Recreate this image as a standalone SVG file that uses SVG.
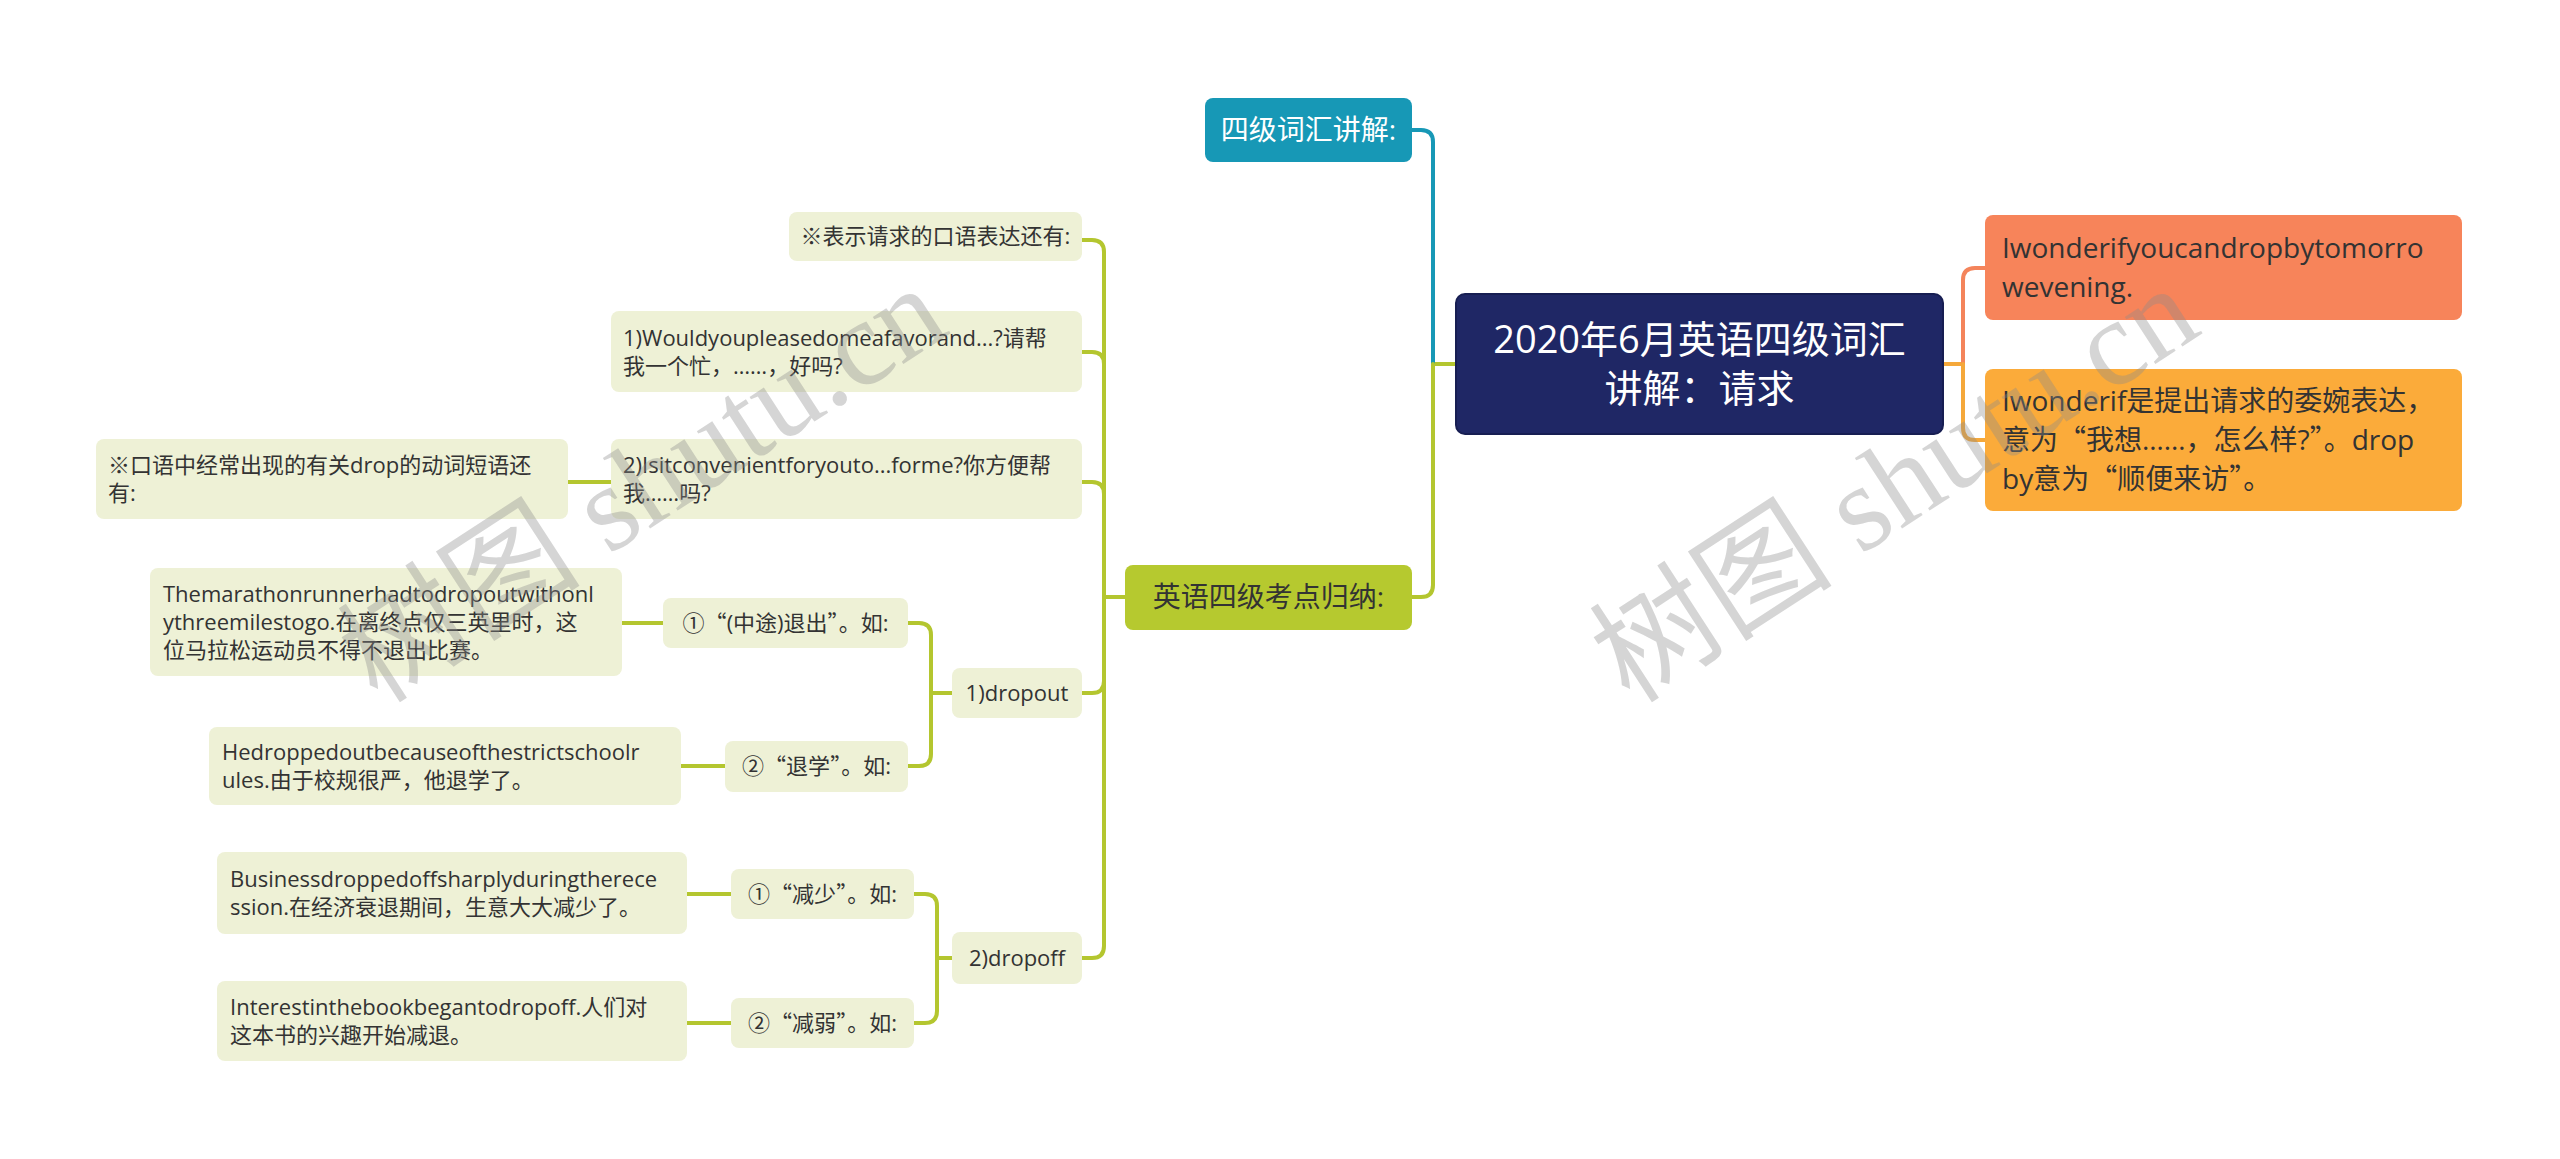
<svg xmlns="http://www.w3.org/2000/svg" width="2560" height="1159" viewBox="0 0 2560 1159">
<style>
  text { font-family: "Open Sans", "Noto Sans CJK SC", sans-serif; }
  .q { font-family: "Noto Sans CJK SC", sans-serif; }
  .sub { fill: #eef1d6; }
  .st { font-size: 22px; fill: #333333; }
  .c { text-anchor: middle; }
  .g { fill: none; stroke: #b4c62f; stroke-width: 4; stroke-linecap: round; }
  .teal { fill: none; stroke: #1798b6; stroke-width: 4; stroke-linecap: round; }
  .coral { fill: none; stroke: #f4845b; stroke-width: 4; stroke-linecap: round; }
  .orng { fill: none; stroke: #f5a83a; stroke-width: 4; stroke-linecap: round; }
  .wm { font-family: "Liberation Serif", "Noto Sans CJK SC", serif; font-size: 122px; fill: #8a8a8a; fill-opacity: 0.36; }
</style>
<rect width="2560" height="1159" fill="#ffffff"/>
<g id="connectors">
  <path class="g" d="M1456,364 H1433"/>
  <path class="teal" d="M1433,364 V142 Q1433,130 1421,130 H1412"/>
  <path class="g" d="M1433,364 V585 Q1433,597 1421,597 H1412"/>
  <path class="orng" d="M1943,364 H1963"/>
  <path class="coral" d="M1963,364 V280 Q1963,268 1975,268 H1985"/>
  <path class="orng" d="M1963,364 V428 Q1963,440 1975,440 H1985"/>
  <path class="g" d="M1125,597 H1104"/>
  <path class="g" d="M1104,597 V252 Q1104,240 1092,240 H1082"/>
  <path class="g" d="M1104,597 V364 Q1104,352 1092,352 H1082"/>
  <path class="g" d="M1104,597 V494 Q1104,482 1092,482 H1082"/>
  <path class="g" d="M1104,597 V681 Q1104,693 1092,693 H1082"/>
  <path class="g" d="M1104,597 V946 Q1104,958 1092,958 H1082"/>
  <path class="g" d="M611,482 H568"/>
  <path class="g" d="M952,693 H931"/>
  <path class="g" d="M931,693 V635 Q931,623 919,623 H908"/>
  <path class="g" d="M931,693 V754 Q931,766 919,766 H908"/>
  <path class="g" d="M663,623 H622"/>
  <path class="g" d="M725,766 H681"/>
  <path class="g" d="M952,958 H937"/>
  <path class="g" d="M937,958 V906 Q937,894 925,894 H914"/>
  <path class="g" d="M937,958 V1011 Q937,1023 925,1023 H914"/>
  <path class="g" d="M731,894 H687"/>
  <path class="g" d="M731,1023 H687"/>
</g>
<g id="root">
  <rect x="1456" y="294" width="487" height="140" rx="9" fill="#1f2765" stroke="#171e52" stroke-width="2"/>
  <text x="1699.5" y="353" class="c" font-size="38" fill="#ffffff">2020年6月英语四级词汇</text>
  <text x="1699.5" y="402" class="c" font-size="38" fill="#ffffff">讲解：请求</text>
</g>
<g id="n-vocab">
  <rect x="1205" y="98" width="207" height="64" rx="8" fill="#1798b6"/>
  <text x="1308.5" y="140" class="c" font-size="28" fill="#ffffff">四级词汇讲解:</text>
</g>
<g id="n-summary">
  <rect x="1125" y="565" width="287" height="65" rx="8" fill="#b6c92f"/>
  <text x="1268.5" y="607" class="c" font-size="28" fill="#333333">英语四级考点归纳:</text>
</g>
<g id="n-coral">
  <rect x="1985" y="215" width="477" height="105" rx="8" fill="#f7845a"/>
  <text x="2002" y="258" font-size="28" fill="#333333">Iwonderifyoucandropbytomorro</text>
  <text x="2002" y="297" font-size="28" fill="#333333">wevening.</text>
</g>
<g id="n-orange">
  <rect x="1985" y="369" width="477" height="142" rx="8" fill="#fbab3a"/>
  <text x="2002" y="411" font-size="28" fill="#333333">Iwonderif是提出请求的委婉表达，</text>
  <text x="2002" y="450" font-size="28" fill="#333333">意为<tspan class="q">“</tspan>我想……，怎么样?<tspan class="q">”</tspan>。drop</text>
  <text x="2002" y="489" font-size="28" fill="#333333">by意为<tspan class="q">“</tspan>顺便来访<tspan class="q">”</tspan>。</text>
</g>
<g id="n-a">
  <rect class="sub" x="789" y="212" width="293" height="49" rx="8"/>
  <text class="st c" x="935.5" y="244">※表示请求的口语表达还有:</text>
</g>
<g id="n-b">
  <rect class="sub" x="611" y="311" width="471" height="81" rx="8"/>
  <text class="st" x="623" y="346">1)Wouldyoupleasedomeafavorand...?请帮</text>
  <text class="st" x="623" y="374">我一个忙，……，好吗?</text>
</g>
<g id="n-c">
  <rect class="sub" x="611" y="439" width="471" height="80" rx="8"/>
  <text class="st" x="623" y="473">2)Isitconvenientforyouto...forme?你方便帮</text>
  <text class="st" x="623" y="501">我……吗?</text>
</g>
<g id="n-d">
  <rect class="sub" x="96" y="439" width="472" height="80" rx="8"/>
  <text class="st" x="108" y="473">※口语中经常出现的有关drop的动词短语还</text>
  <text class="st" x="108" y="501">有:</text>
</g>
<g id="n-e">
  <rect class="sub" x="952" y="668" width="130" height="50" rx="8"/>
  <text class="st c" x="1017" y="701">1)dropout</text>
</g>
<g id="n-f">
  <rect class="sub" x="663" y="598" width="245" height="50" rx="8"/>
  <text class="st c" x="785.5" y="631">①<tspan class="q">“</tspan>(中途)退出<tspan class="q">”</tspan>。如:</text>
</g>
<g id="n-g">
  <rect class="sub" x="150" y="568" width="472" height="108" rx="8"/>
  <text class="st" x="163" y="602">Themarathonrunnerhadtodropoutwithonl</text>
  <text class="st" x="163" y="630">ythreemilestogo.在离终点仅三英里时，这</text>
  <text class="st" x="163" y="658">位马拉松运动员不得不退出比赛。</text>
</g>
<g id="n-h">
  <rect class="sub" x="725" y="741" width="183" height="51" rx="8"/>
  <text class="st c" x="816.5" y="774">②<tspan class="q">“</tspan>退学<tspan class="q">”</tspan>。如:</text>
</g>
<g id="n-i">
  <rect class="sub" x="209" y="727" width="472" height="78" rx="8"/>
  <text class="st" x="222" y="760">Hedroppedoutbecauseofthestrictschoolr</text>
  <text class="st" x="222" y="788">ules.由于校规很严，他退学了。</text>
</g>
<g id="n-j">
  <rect class="sub" x="952" y="932" width="130" height="52" rx="8"/>
  <text class="st c" x="1017" y="966">2)dropoff</text>
</g>
<g id="n-k">
  <rect class="sub" x="731" y="869" width="183" height="50" rx="8"/>
  <text class="st c" x="822.5" y="902">①<tspan class="q">“</tspan>减少<tspan class="q">”</tspan>。如:</text>
</g>
<g id="n-l">
  <rect class="sub" x="217" y="852" width="470" height="82" rx="8"/>
  <text class="st" x="230" y="887">Businessdroppedoffsharplyduringtherece</text>
  <text class="st" x="230" y="915">ssion.在经济衰退期间，生意大大减少了。</text>
</g>
<g id="n-m">
  <rect class="sub" x="731" y="998" width="183" height="50" rx="8"/>
  <text class="st c" x="822.5" y="1031">②<tspan class="q">“</tspan>减弱<tspan class="q">”</tspan>。如:</text>
</g>
<g id="n-n">
  <rect class="sub" x="217" y="981" width="470" height="80" rx="8"/>
  <text class="st" x="230" y="1015">Interestinthebookbegantodropoff.人们对</text>
  <text class="st" x="230" y="1043">这本书的兴趣开始减退。</text>
</g>
<g id="watermarks">
  <text class="wm" transform="translate(378,705) rotate(-33)">树图 shutu.cn</text>
  <text class="wm" transform="translate(1630,705) rotate(-33)">树图 shutu.cn</text>
</g>
</svg>
